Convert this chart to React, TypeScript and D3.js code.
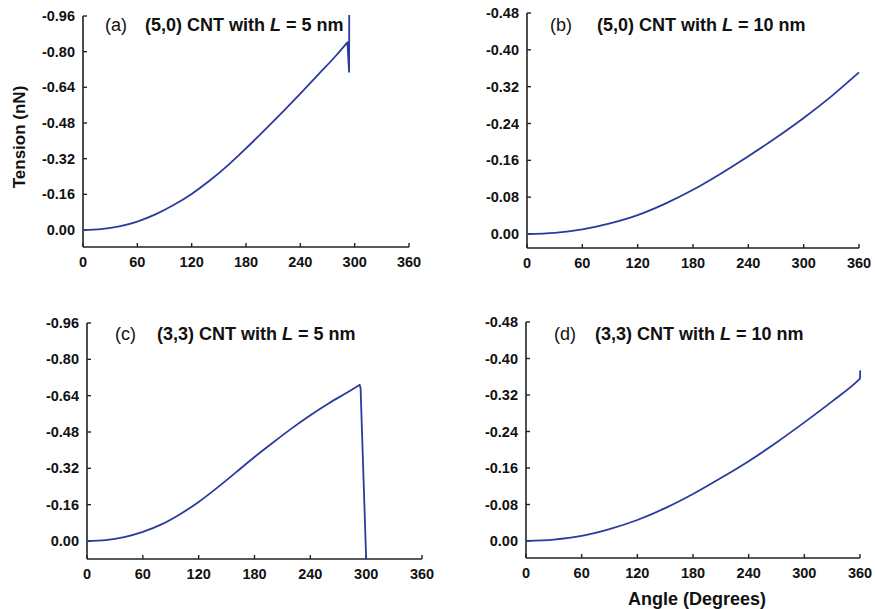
import React from 'react';
import * as d3 from 'd3';

// tick values
const xTicks = [0, 60, 120, 180, 240, 300, 360];
const yTicks5nm = [0, -0.16, -0.32, -0.48, -0.64, -0.80, -0.96];
const yTicks10nm = [0, -0.08, -0.16, -0.24, -0.32, -0.40, -0.48];

// (a) (5,0) CNT, L = 5 nm
const anglesA = [0, 20, 40, 60, 80, 100, 120, 140, 160, 180, 200, 220, 240, 260, 280, 292, 293.8, 294];
const tensionA = [0, -0.004, -0.016, -0.038, -0.070, -0.112, -0.162, -0.222, -0.290, -0.366, -0.446, -0.528, -0.612, -0.698, -0.785, -0.842, -0.71, -0.965];

// (b) (5,0) CNT, L = 10 nm
const anglesB = [0, 30, 60, 90, 120, 150, 180, 210, 240, 270, 300, 330, 360];
const tensionB = [0, -0.0025, -0.010, -0.023, -0.041, -0.066, -0.096, -0.131, -0.169, -0.209, -0.252, -0.299, -0.351];

// (c) (3,3) CNT, L = 5 nm
const anglesC = [0, 20, 40, 60, 80, 100, 120, 140, 160, 180, 200, 220, 240, 260, 280, 293, 294, 300];
const tensionC = [0, -0.004, -0.017, -0.040, -0.073, -0.118, -0.172, -0.235, -0.302, -0.370, -0.434, -0.496, -0.554, -0.607, -0.655, -0.688, -0.672, 0.08];

// (d) (3,3) CNT, L = 10 nm
const anglesD = [0, 30, 60, 90, 120, 150, 180, 210, 240, 270, 300, 330, 358, 360, 360.2];
const tensionD = [0, -0.003, -0.011, -0.026, -0.046, -0.072, -0.103, -0.138, -0.175, -0.216, -0.260, -0.306, -0.352, -0.356, -0.374];

const FONT = 'Liberation Sans, Arial, sans-serif';
const LINE = '#2b3a9e';
const AXIS = '#222';

// brk = how many trailing points belong to the failure jump (drawn straight)
const panels = [
  { tag: '(a)', chir: '(5,0)', len: '5', angles: anglesA, tension: tensionA, ticks: yTicks5nm, brk: 2,
    x0: 83, x1: 409, top: 16, zero: 230, axis: 247, tagX: 105, titleX: 145, titleY: 31 },
  { tag: '(b)', chir: '(5,0)', len: '10', angles: anglesB, tension: tensionB, ticks: yTicks10nm, brk: 0,
    x0: 527, x1: 859, top: 13, zero: 234, axis: 248, tagX: 550, titleX: 597, titleY: 30.5 },
  { tag: '(c)', chir: '(3,3)', len: '5', angles: anglesC, tension: tensionC, ticks: yTicks5nm, brk: 2,
    x0: 87, x1: 422, top: 323, zero: 541, axis: 559, tagX: 115, titleX: 157, titleY: 339.5 },
  { tag: '(d)', chir: '(3,3)', len: '10', angles: anglesD, tension: tensionD, ticks: yTicks10nm, brk: 1,
    x0: 526, x1: 860, top: 322, zero: 541, axis: 558, tagX: 554, titleX: 595, titleY: 339.5 },
];

function Panel({ p }: { p: typeof panels[number] }) {
  const x = d3.scaleLinear().domain([0, 360]).range([p.x0, p.x1]);
  const yTop = p.ticks[p.ticks.length - 1];
  const y = d3.scaleLinear().domain([0, yTop]).range([p.zero, p.top]);

  const pts = p.angles.map((a, i) => [a, p.tension[i]] as [number, number]);
  const n = pts.length - p.brk;
  const smooth = d3.line<[number, number]>()
    .x(d => x(d[0]))
    .y(d => y(d[1]))
    .curve(d3.curveMonotoneX)(pts.slice(0, n)) || '';
  const jump = pts.slice(n).map(d => `L${x(d[0])},${y(d[1])}`).join('');

  return (
    <g>
      {/* axes */}
      <line x1={p.x0} x2={p.x0} y1={y(yTop)} y2={p.axis} stroke={AXIS} strokeWidth={1.6} />
      <line x1={p.x0} x2={p.x1} y1={p.axis} y2={p.axis} stroke={AXIS} strokeWidth={1.6} />
      {xTicks.map(t => (
        <g key={'x' + t}>
          <line x1={x(t)} x2={x(t)} y1={p.axis} y2={p.axis - 4} stroke={AXIS} strokeWidth={1.4} />
          <text x={x(t)} y={p.axis + 19.5} textAnchor="middle" fontSize={14.5} fontWeight="bold" fontFamily={FONT} fill="#111">{t}</text>
        </g>
      ))}
      {p.ticks.map(t => (
        <g key={'y' + t}>
          <line x1={p.x0} x2={p.x0 + 4} y1={y(t)} y2={y(t)} stroke={AXIS} strokeWidth={1.4} />
          <text x={p.x0 - 8} y={y(t)} dy="0.35em" textAnchor="end" fontSize={14.5} fontWeight="bold" fontFamily={FONT} fill="#111">{t.toFixed(2)}</text>
        </g>
      ))}
      <path d={smooth + jump} fill="none" stroke={LINE} strokeWidth={1.8} strokeLinejoin="round" />
      {/* title */}
      <text x={p.tagX} y={p.titleY} fontSize={18} fontFamily={FONT} fill="#111">{p.tag}</text>
      <text x={p.titleX} y={p.titleY} fontSize={18} fontWeight="bold" fontFamily={FONT} fill="#111">
        {p.chir} CNT with <tspan fontStyle="italic">L</tspan> = {p.len} nm
      </text>
    </g>
  );
}

export default function App() {
  return (
    <svg width={875} height={609} style={{ position: 'absolute', left: 0, top: 0, background: '#fff' }}>
      {panels.map(p => <Panel key={p.tag} p={p} />)}
      <text transform="translate(25,137) rotate(-90)" textAnchor="middle" fontSize={17} fontWeight="bold" fontFamily={FONT} fill="#111">Tension (nN)</text>
      <text x={697} y={605} textAnchor="middle" fontSize={18} fontWeight="bold" fontFamily={FONT} fill="#111">Angle (Degrees)</text>
    </svg>
  );
}
